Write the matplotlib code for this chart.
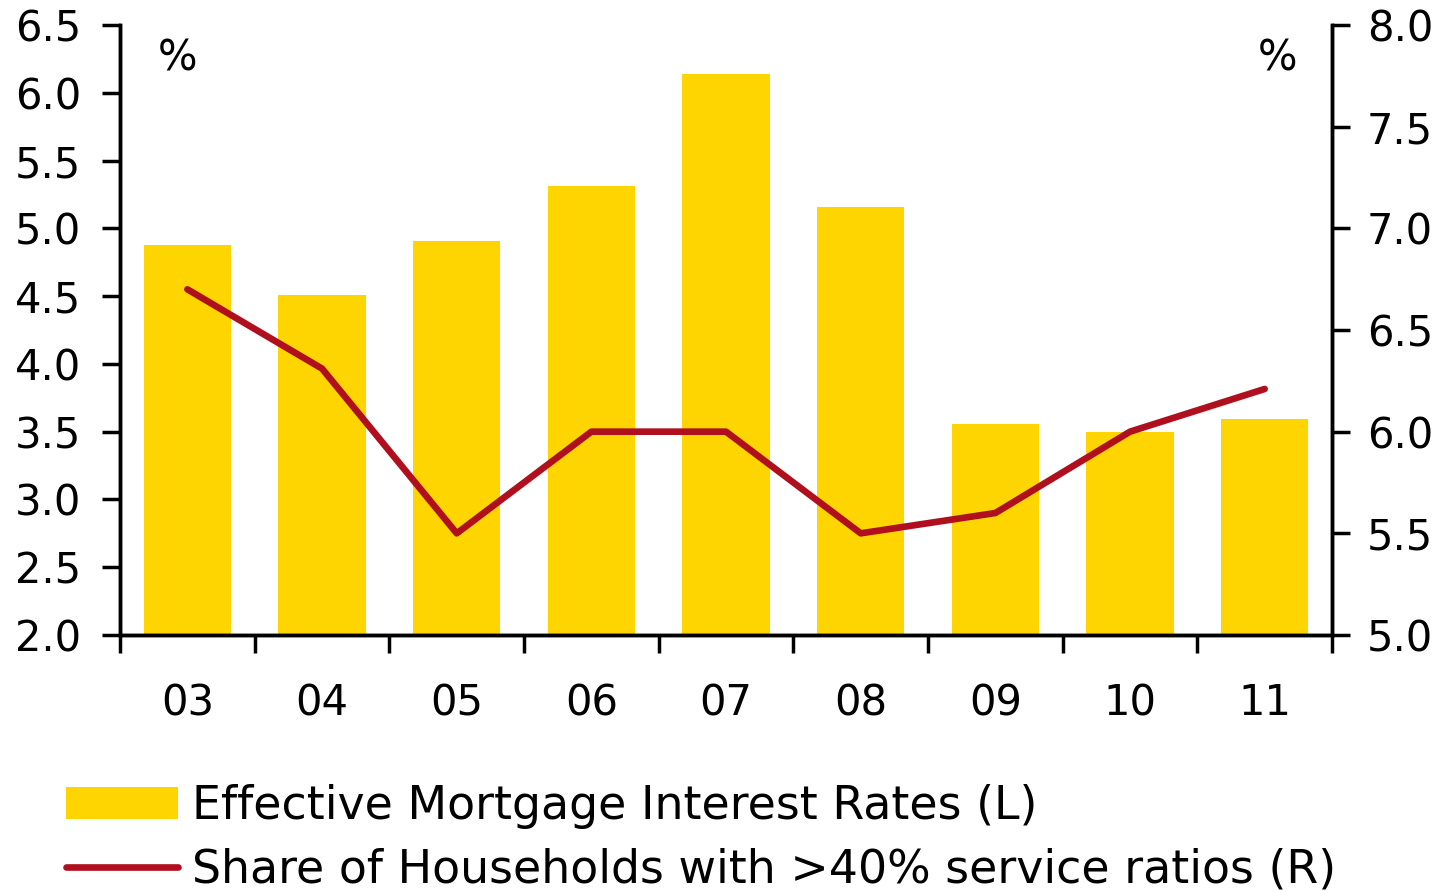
import numpy as np
import matplotlib
matplotlib.use('Agg')
import matplotlib.pyplot as plt
from matplotlib.patches import Patch
from matplotlib.lines import Line2D

plt.rcParams['font.family'] = ['DejaVu Sans']

# data
years = ['03', '04', '05', '06', '07', '08', '09', '10', '11']
mortgage_rate = [4.88, 4.51, 4.91, 5.31, 6.14, 5.16, 3.56, 3.50, 3.59]   # left axis
share_high_dsr = [6.70, 6.31, 5.50, 6.00, 6.00, 5.50, 5.60, 6.00, 6.21]  # right axis

bar_color = '#FFD500'
line_color = '#B0101E'

fig = plt.figure(figsize=(14.48, 8.92), dpi=100)
ax = fig.add_axes([0.0829, 0.2881, 0.837, 0.6839])
ax2 = ax.twinx()

x = np.arange(len(years))
ax.bar(x, mortgage_rate, width=0.65, color=bar_color, zorder=2)
ax2.plot(x, share_high_dsr, color=line_color, lw=4.8, solid_capstyle='round',
         solid_joinstyle='round', zorder=3)

ax.set_xlim(-0.5, len(years) - 0.5)
ax.set_ylim(2.0, 6.5)
ax2.set_ylim(5.0, 8.0)
ax.set_yticks(np.arange(2.0, 6.51, 0.5))
ax2.set_yticks(np.arange(5.0, 8.01, 0.5))
ax.set_yticklabels([f'{v:.1f}' for v in np.arange(2.0, 6.51, 0.5)])
ax2.set_yticklabels([f'{v:.1f}' for v in np.arange(5.0, 8.01, 0.5)])

ax.set_xticks(x)
ax.set_xticklabels(years)
ax.set_xticks(np.arange(-0.5, len(years)), minor=True)
ax.tick_params(axis='x', which='major', length=0, pad=34, labelsize=30)
ax.tick_params(axis='x', which='minor', direction='out', length=13, width=2.5)
ax.tick_params(axis='y', direction='out', length=13, width=2.5, pad=15, labelsize=30)
ax2.tick_params(axis='y', direction='out', length=13, width=2.5, pad=12, labelsize=30)

for a in (ax, ax2):
    a.spines['top'].set_visible(False)
    for s in ('left', 'right', 'bottom'):
        a.spines[s].set_linewidth(2.5)

ax.text(0.047, 0.945, '%', transform=ax.transAxes, fontsize=30, ha='center', va='center')
ax2.text(0.955, 0.945, '%', transform=ax2.transAxes, fontsize=30, ha='center', va='center')

handles = [Patch(facecolor=bar_color, edgecolor='none'),
           Line2D([0], [0], color=line_color, lw=4.8, solid_capstyle='round')]
labels = ['Effective Mortgage Interest Rates (L)',
          'Share of Households with >40% service ratios (R)']
fig.legend(handles, labels, loc='upper left', bbox_to_anchor=(0.0456, 0.1215),
           frameon=False, fontsize=33, handlelength=2.45, handletextpad=0.3,
           labelspacing=0.42, borderaxespad=0, borderpad=0)

fig.savefig('out.png', dpi=100)
